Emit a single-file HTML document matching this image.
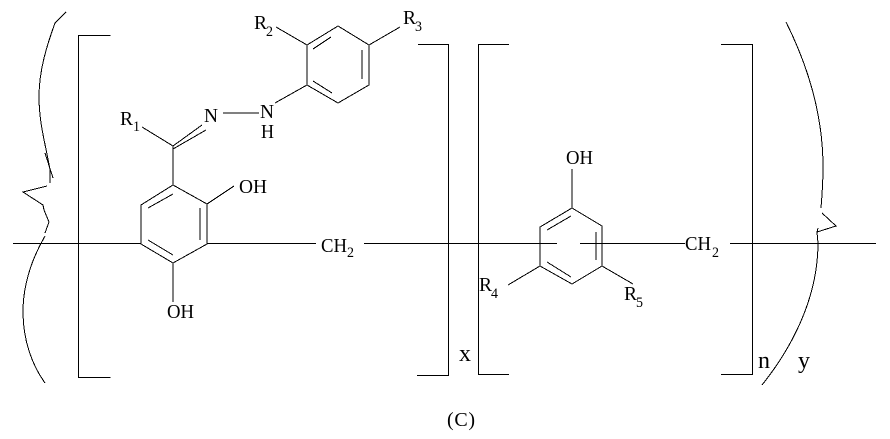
<!DOCTYPE html>
<html>
<head>
<meta charset="utf-8">
<style>
html,body{margin:0;padding:0;background:#fff;width:890px;height:439px;overflow:hidden}
svg{display:block}
.l{fill:none;stroke:#000;stroke-width:1;shape-rendering:crispEdges}
.c{fill:none;stroke:#000;stroke-width:1;shape-rendering:crispEdges}
text{font-family:"Liberation Serif",serif;font-size:20px;fill:#000}
.s{font-size:15px}
.b{font-size:24px}
</style>
</head>
<body>
<svg width="890" height="439" viewBox="0 0 890 439" xmlns="http://www.w3.org/2000/svg">
<!-- brackets -->
<path class="l" d="M110.5 35.5H78.5V377.5H110.5"/>
<path class="l" d="M418 44.5H448.5V375.5H417"/>
<path class="l" d="M509 44.5H478.5V374.5H509"/>
<path class="l" d="M721 44.5H752.5V374.5H721"/>
<!-- backbone -->
<path class="l" d="M13 243.5H141M207 243.5H316M364 243.5H557M580 243.5H685M730 243.5H876"/>
<!-- ring 1 -->
<path class="l" d="M173 185L207 204V244L173 263L141 244V205Z"/>
<path class="l" d="M148 208L173 194M200 208V240M148 240L173 255"/>
<path class="l" d="M207 204L234 186M173 263V302M173 185V146M142 127L173 146L202 125M173 149L206 130"/>
<!-- hydrazone -->
<path class="l" d="M223 113H259M275 103L307 85"/>
<!-- ring 2 -->
<path class="l" d="M307 45L338 26L369 45V85L338 103L307 85Z"/>
<path class="l" d="M313 49L331 37M362 50V79M313 81L332 93"/>
<path class="l" d="M276 27L307 45M369 45L400 27"/>
<!-- ring 3 -->
<path class="l" d="M572 208L602 226V266L572 284L540 266V227Z"/>
<path class="l" d="M547 230L571 216M596 232V260M547 262L571 277"/>
<path class="l" d="M572 169V208M540 266L508 285M602 266L633 284"/>
<!-- left curve -->
<path class="c" d="M66 12L57 21L55 23C47 45 39 70 39 97C39 125 47 150 50 170V183"/>
<path class="c" d="M45 153L53 178"/>
<path class="c" d="M47 186L23 192L43 205L44 210L49 222L45 233"/>
<path class="c" d="M45 236C30 262 23 288 23 312C23 340 32 365 45 383"/>
<!-- right curve -->
<path class="c" d="M786 22C805 60 823 110 823 167C823 185 822 195 821 208"/>
<path class="c" d="M822 213L836 226L817 232L818 228"/>
<path class="c" d="M817 232L818 243C818 300 790 350 762 385"/>
<!-- labels -->
<text x="120" y="125" textLength="13" lengthAdjust="spacingAndGlyphs">R</text><text class="s" x="133" y="131" textLength="7" lengthAdjust="spacingAndGlyphs">1</text>
<text x="204" y="122" textLength="14" lengthAdjust="spacingAndGlyphs">N</text>
<text x="260" y="118" textLength="14" lengthAdjust="spacingAndGlyphs">N</text>
<text x="261" y="138" textLength="13" lengthAdjust="spacingAndGlyphs">H</text>
<text x="254" y="29" textLength="13" lengthAdjust="spacingAndGlyphs">R</text><text class="s" x="266" y="36" textLength="7" lengthAdjust="spacingAndGlyphs">2</text>
<text x="403" y="24" textLength="13" lengthAdjust="spacingAndGlyphs">R</text><text class="s" x="415" y="31" textLength="7" lengthAdjust="spacingAndGlyphs">3</text>
<text x="239" y="193" textLength="28" lengthAdjust="spacingAndGlyphs">OH</text>
<text x="167" y="318" textLength="27" lengthAdjust="spacingAndGlyphs">OH</text>
<text x="566" y="164" textLength="27" lengthAdjust="spacingAndGlyphs">OH</text>
<text x="321" y="252" textLength="26" lengthAdjust="spacingAndGlyphs">CH</text><text class="s" x="347" y="257" textLength="7" lengthAdjust="spacingAndGlyphs">2</text>
<text x="685" y="250" textLength="26" lengthAdjust="spacingAndGlyphs">CH</text><text class="s" x="712" y="257" textLength="7" lengthAdjust="spacingAndGlyphs">2</text>
<text x="479" y="291" textLength="13" lengthAdjust="spacingAndGlyphs">R</text><text class="s" x="491" y="298" textLength="7" lengthAdjust="spacingAndGlyphs">4</text>
<text x="624" y="300" textLength="13" lengthAdjust="spacingAndGlyphs">R</text><text class="s" x="636" y="307" textLength="7" lengthAdjust="spacingAndGlyphs">5</text>
<text class="b" x="459" y="361" textLength="12" lengthAdjust="spacingAndGlyphs">x</text>
<text class="b" x="758" y="368" textLength="12" lengthAdjust="spacingAndGlyphs">n</text>
<text class="b" x="798" y="368" textLength="12" lengthAdjust="spacingAndGlyphs">y</text>
<text x="447" y="426" textLength="28" lengthAdjust="spacing">(C)</text>
</svg>
</body>
</html>
